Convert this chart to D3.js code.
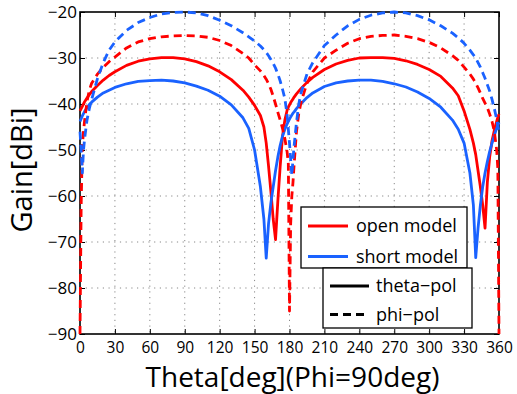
<!DOCTYPE html>
<html>
<head>
<meta charset="utf-8">
<script src="https://cdn.jsdelivr.net/npm/d3@7"></script>
<style>
body { margin: 0; background: #fff; }
svg { font-family: "Open Sans", sans-serif; }
</style>
</head>
<body>
<div id="chart"></div>
<script>
// theta samples (deg), denser around the nulls
var theta = [0, 1, 2, 3, 4, 6, 8, 10, 15, 20, 25, 30, 40, 50, 60, 70, 80, 90, 100, 110, 120, 130, 140,
    145, 150, 155, 158, 160, 162, 164, 166, 168, 170, 172, 174, 176, 178, 179, 180,
    181, 182, 183, 184, 186, 188, 190, 195, 200, 210, 220, 230, 240, 250, 260, 270, 280, 290, 300, 310, 320,
    325, 330, 335, 338, 340, 342, 344, 346, 348, 350, 352, 354, 356, 358, 359, 360];

// open model, theta-pol (red solid)
var openThetaPol = [-41.5, -41, -40.5, -40, -39.5, -38.7, -38, -37.3, -36, -34.8, -33.8, -33, -31.6, -30.7, -30.2, -29.9, -29.9, -30.2, -30.8, -31.7, -33, -34.7, -37,
    -38.5, -40.3, -42.5, -45, -48.5, -53.5, -59, -65, -69.5, -61, -53.5, -47, -43.5, -41.3, -40.7, -40.2,
    -39.7, -39.3, -38.9, -38.5, -37.8, -37.2, -36.6, -35.3, -34.2, -32.5, -31.3, -30.5, -30, -29.9, -29.9, -30.1, -30.6, -31.4, -32.5, -34, -36.5,
    -38.2, -41.5, -45.5, -48.5, -51, -54.5, -58, -62, -67, -57, -51.5, -48, -45.7, -43.8, -42.9, -42.2];

// short model, theta-pol (blue solid)
var shortThetaPol = [-43.8, -43.2, -42.6, -42.1, -41.6, -40.8, -40.1, -39.6, -38.5, -37.6, -37, -36.4, -35.6, -35.1, -34.9, -34.8, -35, -35.4, -36.1, -37, -38.3, -40.2, -43,
    -45.3, -50, -58, -65, -73.5, -66, -61.5, -58, -54.5, -51.5, -49, -47, -45.5, -44.3, -43.8, -43.3,
    -42.8, -42.4, -42, -41.7, -41, -40.4, -39.9, -38.6, -37.6, -36.2, -35.4, -35, -34.8, -34.8, -35.1, -35.6, -36.3, -37.4, -38.8, -40.7, -43.5,
    -45.5, -48.5, -55, -62, -73.4, -67, -62, -58, -55, -52.5, -50.3, -48.5, -46.8, -45.3, -44.6, -44];

// open model, phi-pol (red dashed)
var openPhiPol = [-90, -62, -49, -46, -43.5, -39.5, -37, -35.5, -33.5, -32, -30.8, -29.8, -27.8, -26.5, -25.8, -25.4, -25.2, -25.1, -25.2, -25.5, -26.2, -27.3, -29,
    -30, -31.5, -32.8, -33.8, -34.6, -35.6, -36.8, -38.3, -40, -41.8, -43.5, -45.3, -47.5, -50.5, -53, -85,
    -66, -60, -57, -53, -46, -42, -39.5, -35.5, -33, -30, -28.3, -26.8, -25.8, -25.3, -25.1, -25, -25.3, -25.8, -26.6, -27.8, -29.5,
    -30.5, -32, -33.5, -34.6, -35.5, -36.5, -37.6, -38.8, -39.8, -40.8, -42.2, -43.8, -46, -50, -54, -90];

// short model, phi-pol (blue dashed)
var shortPhiPol = [-46, -50, -55, -50, -47.5, -43.5, -41, -39, -34.5, -31, -28.3, -26.5, -24, -22.3, -21.2, -20.4, -20.1, -20, -20.2, -20.8, -21.8, -23, -24.5,
    -25.4, -26.3, -27.4, -28.2, -28.8, -29.5, -30.3, -31.2, -32.2, -33.5, -35, -36.8, -38.8, -42.5, -45.5, -48.5,
    -52, -55.5, -52, -49, -44, -40, -37.5, -33.5, -31, -27.3, -25, -23, -21.6, -20.7, -20.2, -20, -20.2, -20.8, -21.7, -23, -24.6,
    -25.6, -26.8, -28.3, -29.3, -30, -31, -32, -33.2, -34.4, -35.8, -37.2, -39, -41, -43.3, -44.8, -46];

var xTicks = [0, 30, 60, 90, 120, 150, 180, 210, 240, 270, 300, 330, 360];
var yTicks = [-90, -80, -70, -60, -50, -40, -30, -20];

var models = ["open model", "short model"];
var pols = ["theta\u2212pol", "phi\u2212pol"];

var red = "#ff0000",
    blue = "#1a62ff";

// set the dimensions and margins of the graph
var margin = { top: 12, right: 18, bottom: 60, left: 80 },
    width = 517 - margin.left - margin.right,
    height = 394 - margin.top - margin.bottom;

var svg = d3.select("#chart")
    .append("svg")
    .attr("width", width + margin.left + margin.right)
    .attr("height", height + margin.top + margin.bottom)
    .append("g")
    .attr("transform", "translate(" + margin.left + "," + margin.top + ")");

var x = d3.scaleLinear().domain([0, 360]).range([0, width]);
var y = d3.scaleLinear().domain([-90, -20]).range([height, 0]);

// dotted grid
svg.append("g").selectAll("line")
    .data(xTicks.slice(1, -1))
    .enter().append("line")
    .attr("x1", function(d) { return x(d); })
    .attr("x2", function(d) { return x(d); })
    .attr("y1", 0).attr("y2", height)
    .attr("stroke", "#888").attr("stroke-width", 1)
    .attr("stroke-dasharray", "1.2,4.5");
svg.append("g").selectAll("line")
    .data(yTicks.slice(1, -1))
    .enter().append("line")
    .attr("y1", function(d) { return y(d); })
    .attr("y2", function(d) { return y(d); })
    .attr("x1", 0).attr("x2", width)
    .attr("stroke", "#888").attr("stroke-width", 1)
    .attr("stroke-dasharray", "1.2,4.5");

// axes, ticks pointing inward on all four sides
var fmt = d3.format("d");
var gx = svg.append("g")
    .attr("transform", "translate(0," + height + ")")
    .call(d3.axisBottom(x).tickValues(xTicks).tickSizeInner(-5).tickSizeOuter(0).tickPadding(8).tickFormat(fmt));
var gy = svg.append("g")
    .call(d3.axisLeft(y).tickValues(yTicks).tickSizeInner(-5).tickSizeOuter(0).tickPadding(3).tickFormat(fmt));
var gt = svg.append("g")
    .call(d3.axisTop(x).tickValues(xTicks).tickSizeInner(-5).tickSizeOuter(0).tickFormat(""));
var gr = svg.append("g")
    .attr("transform", "translate(" + width + ",0)")
    .call(d3.axisRight(y).tickValues(yTicks).tickSizeInner(-5).tickSizeOuter(0).tickFormat(""));

[gx, gy, gt, gr].forEach(function(g) {
    g.select(".domain").remove();
    g.selectAll(".tick line").attr("stroke", "#000").attr("stroke-width", 1);
    g.selectAll("text").attr("fill", "#000").style("font-size", "17px").style("font-family", "Open Sans");
});
// x labels are packed tight, as in the original
gx.selectAll("text").style("font-size", "15.5px");

svg.append("rect")
    .attr("x", 0).attr("y", 0)
    .attr("width", width).attr("height", height)
    .attr("fill", "none")
    .attr("stroke", "#000")
    .attr("stroke-width", 1.6);

// curves
var series = [
    { values: openThetaPol, color: red, dash: null },
    { values: shortThetaPol, color: blue, dash: null },
    { values: openPhiPol, color: red, dash: "8,5" },
    { values: shortPhiPol, color: blue, dash: "8,5" }
];

var line = d3.line()
    .x(function(d) { return x(d[0]); })
    .y(function(d) { return y(d[1]); });

series.forEach(function(s) {
    svg.append("path")
        .datum(d3.zip(theta, s.values))
        .attr("d", line)
        .attr("fill", "none")
        .attr("stroke", s.color)
        .attr("stroke-width", 2.8)
        .attr("stroke-linejoin", "round")
        .attr("stroke-dasharray", s.dash);
});

// axis titles
svg.append("text")
    .attr("x", width / 2 + 3)
    .attr("y", height + 53)
    .attr("text-anchor", "middle")
    .style("font-size", "28px")
    .text("Theta[deg](Phi=90deg)");

svg.append("text")
    .attr("transform", "translate(" + (-48) + "," + (height / 2 - 3) + ") rotate(-90)")
    .attr("text-anchor", "middle")
    .style("font-size", "29px")
    .text("Gain[dBi]");

// legend 1: models
var leg1 = svg.append("g").attr("transform", "translate(221,195)");
leg1.append("rect")
    .attr("width", 166).attr("height", 61)
    .attr("fill", "#fff").attr("stroke", "#000").attr("stroke-width", 1.3);
models.forEach(function(m, i) {
    var ly = 19 + i * 30.5;
    leg1.append("line")
        .attr("x1", 7).attr("x2", 47)
        .attr("y1", ly).attr("y2", ly)
        .attr("stroke", i === 0 ? red : blue).attr("stroke-width", 2.8);
    leg1.append("text")
        .attr("x", 55).attr("y", ly)
        .attr("dy", "0.35em")
        .style("font-size", "18px")
        .text(m);
});

// legend 2: polarisations
var leg2 = svg.append("g").attr("transform", "translate(243,256)");
leg2.append("rect")
    .attr("width", 149).attr("height", 60)
    .attr("fill", "#fff").attr("stroke", "#000").attr("stroke-width", 1.3);
pols.forEach(function(p, i) {
    var ly = 18 + i * 28.5;
    leg2.append("line")
        .attr("x1", 7).attr("x2", 46)
        .attr("y1", ly).attr("y2", ly)
        .attr("stroke", "#000").attr("stroke-width", 2.8)
        .attr("stroke-dasharray", i === 0 ? null : "8,5");
    leg2.append("text")
        .attr("x", 53).attr("y", ly)
        .attr("dy", "0.35em")
        .style("font-size", "18px")
        .text(p);
});
</script>
</body>
</html>
